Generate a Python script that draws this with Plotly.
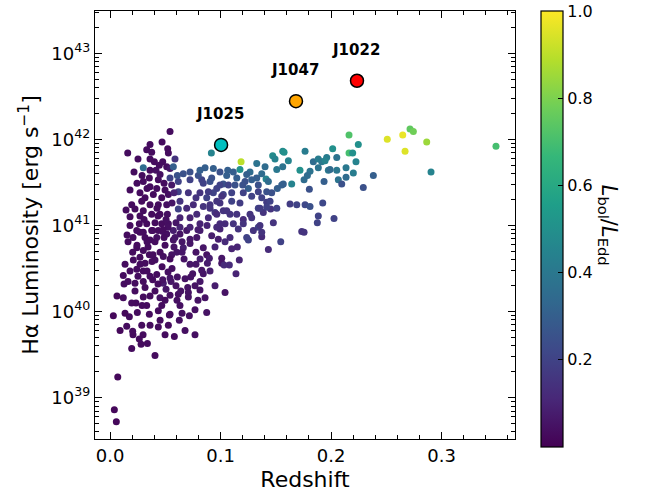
import plotly.graph_objects as go

# ---------------- data ----------------
# low / core population (redshift, log10 L_Halpha, Eddington ratio)
z_low = [.0039,.0057,.0070,.0196,.0265,.0281,.0338,.0407,.0582,.0208,.0030,.0151,.0205,.0287,.0175,.0247,.0235,.0120,.0196,.0301,
         .0332,.0356,.0437,.0528,.0537,.0627,.0718,.0769,.0875,.0633,.0468,.0452,.0543,.0618,.0709,.0703,.0640,.0597,.0507,.0482,
         .0552,.0609,.0543,.0477,.0386,.0301,.0317,.0226,.0127,.0120,.0181,.0242,.0301,.0362,.0423,.0317,.0211,.0271,.0205,.0242,
         .0301,.0356,.0407,.0482,.0558,.0604,.0663,.0724,.0778,.0844,.0875,.1011,.1041,.1011,.0980,.0920,.0785,.0724,.0633,.0573,
         .0513,.0423,.0362,.0271,.0386,.0477,.0694,.0814,.0995]
logL_low = [38.86,38.72,39.24,39.57,39.68,39.62,39.63,39.49,39.71,39.73,39.95,39.83,39.77,39.84,39.94,39.99,40.10,40.16,40.10,40.17,
            40.07,39.97,39.82,39.84,39.96,39.90,39.95,40.02,39.99,40.07,40.07,40.16,40.19,40.20,40.17,40.28,40.24,40.30,40.26,40.33,
            40.35,40.40,40.39,40.37,40.37,40.35,40.28,40.33,40.32,40.42,40.47,40.49,40.47,40.41,40.43,40.56,40.60,40.63,40.69,40.74,
            40.71,40.66,40.60,40.64,40.66,40.69,40.74,40.79,40.69,40.74,40.66,40.62,40.22,40.56,40.84,40.88,40.86,40.84,40.90,40.83,
            40.90,40.86,40.83,40.92,40.94,40.93,40.94,40.94,40.96]
edd_low = [.02,.02,.02,.03,.03,.03,.03,.03,.03,.03,.02,.03,.03,.03,.03,.03,.03,.03,.03,.03,
           .03,.03,.03,.03,.03,.04,.04,.04,.05,.04,.03,.05,.04,.04,.05,.05,.05,.05,.06,.08,
           .06,.05,.06,.05,.03,.03,.03,.03,.03,.03,.03,.03,.03,.03,.03,.03,.03,.03,.03,.03,
           .03,.03,.04,.04,.05,.06,.08,.06,.05,.06,.05,.06,.05,.06,.08,.08,.06,.06,.05,.05,
           .04,.04,.03,.03,.03,.04,.06,.08,.10]

# intermediate population
z_mid = [.1925,.2027,.1885,.1876,.1629,.1690,.1765,.1810,.1735,.1756,.1545,.1433,.1373,.1342,.1478,.1454,.1418,.1342,.1387,.1267,
         .1206,.1237,.1252,.1161,.1152,.1101,.1170,.1080,.1140,.1032,.0899,.0881,.0814,.0709,.0543,.0437,.0844,.0830,.0748,.0730]
logL_mid = [41.26,41.08,41.11,41.03,41.25,41.24,41.24,41.22,40.93,40.92,40.81,40.72,40.87,40.98,41.03,41.19,41.27,41.20,41.15,41.13,
            41.07,40.86,40.83,40.96,40.75,40.73,40.60,40.54,40.44,40.54,40.62,40.56,40.25,40.22,39.97,40.01,40.44,40.48,40.44,40.40]
edd_mid = [.22,.20,.20,.20,.18,.20,.22,.25,.15,.15,.20,.12,.12,.20,.15,.15,.18,.20,.15,.15,
           .12,.20,.20,.15,.10,.10,.10,.12,.10,.12,.08,.08,.05,.05,.03,.03,.06,.06,.05,.05]

# upper population
z_up = [.0917,.1186,.1176,.1328,.1403,.1472,.1493,.1563,.1575,.1614,.1509,.1563,.1765,.1719,.1810,.1840,.1885,.1916,.1961,.1976,
        .1885,.1946,.2015,.2163,.2163,.2196,.2247,.2226,.2136,.2202,.2052,.2066,.2136,.2097,.1937,.1804,.1756,.1786,.1568,.1644,
        .1514,.1554,.1412,.1433,.1373,.1328,.1267,.1237,.1282,.1222,.1252,.1201,.1147,.1116,.1065,.0995,.0935,.0860,.0830,.0905,
        .0966,.1025,.1071,.1101,.1025,.0935,.0875,.1131,.1342,.1342,.1418,.1463,.1373,.1448,.1509,.1357,.1282,.1206,.1176,.1101,
        .0995,.0905,.0950,.1025,.1086,.1147,.1116,.1041,.0966,.1206,.1282,.1418,.1357,.1373,.1297,.2052,.1991,.2292,.2383,.2509,
        .2649,.2670,.2715,.2745,.2866,.2905,.3493]
logL_up = [41.84,41.74,41.65,41.72,41.68,41.81,41.77,41.86,41.85,41.75,41.65,41.68,41.86,41.64,41.63,41.74,41.77,41.74,41.79,41.64,
           41.67,41.75,41.89,42.05,41.84,41.84,41.94,41.74,41.67,41.61,41.64,41.53,41.56,41.48,41.51,41.42,41.53,41.58,41.48,41.48,
           41.43,41.47,41.54,41.51,41.60,41.55,41.62,41.59,41.53,41.51,41.43,41.47,41.55,41.62,41.64,41.62,41.66,41.67,41.53,41.51,
           41.43,41.48,41.47,41.38,41.36,41.38,41.32,41.47,41.47,41.39,41.39,41.38,41.32,41.28,41.20,41.20,41.34,41.38,41.26,41.28,
           41.26,41.24,41.15,41.17,41.13,41.13,41.02,41.02,40.98,41.02,41.09,41.21,41.00,40.92,40.94,41.79,41.65,41.44,41.58,42.00,
           42.05,41.86,42.12,42.09,41.97,41.62,41.92]
edd_up = [.45,.90,.50,.38,.35,.48,.45,.48,.50,.45,.40,.38,.42,.50,.38,.35,.42,.40,.42,.40,
          .38,.45,.50,.72,.70,.50,.50,.45,.40,.42,.40,.38,.35,.25,.30,.25,.35,.35,.30,.45,
          .30,.30,.45,.35,.35,.30,.35,.30,.30,.25,.30,.25,.30,.30,.30,.25,.30,.30,.20,.25,
          .20,.25,.20,.20,.20,.20,.20,.25,.25,.20,.25,.25,.20,.20,.20,.18,.20,.20,.18,.20,
          .15,.15,.15,.15,.15,.15,.15,.12,.12,.15,.15,.20,.15,.15,.15,.38,.35,.25,.30,.95,
          .97,.95,.75,.78,.85,.45,.70]

# dense core, upper part
z_core = [.0543,.0160,.0362,.0471,.0522,.0528,.0332,.0377,.0401,.0446,.0477,.0513,.0543,.0301,.0217,.0301,.0356,.0437,.0489,.0543,
          .0558,.0498,.0423,.0362,.0271,.0317,.0392,.0468,.0528,.0513,.0437,.0362,.0287,.0196,.0226,.0301,.0377,.0452,.0519,.0271,
          .0181,.0265,.0332,.0407,.0468,.0528,.0377,.0301,.0437,.0242,.0618,.0694,.0633,.0724,.0785,.0844,.0778,.0709,.0618,.0633,
          .0754,.0814,.0890,.0966,.0905,.0966,.0890,.0814,.0724,.0633,.0573,.0995,.0618,.0724,.0663,.0799,.0724,.0814,.0920,.0844,
          .0995,.1056,.0573,.0609,.1011,.1056]
logL_core = [42.09,41.84,41.94,41.97,41.89,41.84,41.88,41.85,41.74,41.70,41.74,41.68,41.66,41.67,41.62,41.51,41.55,41.53,41.49,41.55,
             41.47,41.41,41.43,41.45,41.38,41.32,41.36,41.32,41.36,41.24,41.24,41.24,41.28,41.24,41.19,41.17,41.13,41.13,41.13,41.11,
             41.10,41.02,41.02,41.03,41.02,41.02,40.94,40.92,40.94,40.94,41.19,41.20,41.09,41.09,41.13,41.22,41.32,41.38,41.39,41.28,
             41.24,41.38,41.39,41.28,41.20,41.13,41.09,41.02,40.98,40.98,40.94,41.02,41.51,41.53,41.60,41.58,41.62,41.64,41.55,41.49,
             41.47,41.58,41.68,41.58,41.34,41.17]
edd_core = [.03,.03,.03,.03,.03,.03,.03,.03,.03,.03,.03,.03,.06,.35,.03,.03,.03,.03,.03,.20,
            .06,.03,.03,.03,.03,.03,.03,.03,.04,.04,.03,.03,.03,.03,.03,.03,.03,.03,.04,.03,
            .03,.03,.03,.03,.03,.04,.03,.03,.03,.03,.20,.12,.10,.10,.12,.15,.15,.15,.20,.15,
            .12,.15,.18,.15,.15,.12,.12,.10,.10,.10,.08,.12,.20,.20,.25,.25,.25,.30,.25,.20,
            .20,.30,.30,.25,.15,.15]

# extra members of the crowded core
z_fill = [.0317,.0407,.0498,.0344,.0453,.0543,.0380,.0471,.0561,.0272,.0335,.0434,.0525,.0253,.0407,.0362,.0498,.0290,.0226,.0163,
          .0136,.0163,.0208,.0181,.0154,.0434,.0489,.0579,.0597,.0561,.0335,.0244,.0181,.0145,.0416,.0253,.0362,.0290,.0453,.0588,
          .0525,.0335,.0389,.0480,.0308,.0244,.0425,.0507,.0362,.0579,.0588,.0652,.0670,.0724,.0679,.0769,.0815,.0905,.0950,.0860,
          .0796,.0606,.0652,.0453,.0362,.0299,.0498,.0679,.0769,.0136,.0063,.0091,.0815,.0778,.0950,.1041,.1086,.0796,.0878,.0652]
logL_fill = [40.86,40.81,40.77,40.75,40.69,40.61,40.58,40.52,40.50,40.55,40.47,40.32,40.46,40.41,40.24,40.18,40.13,40.07,40.24,40.35,
             40.55,40.81,40.86,41.00,40.89,41.11,40.86,40.75,41.03,41.26,41.43,41.49,41.41,41.18,41.64,41.77,41.77,41.58,41.59,41.77,
             40.98,40.81,40.66,40.95,41.07,40.77,41.20,41.07,41.64,41.38,40.86,40.81,40.61,40.55,40.38,40.30,40.35,40.47,40.30,40.16,
             40.13,40.13,39.98,39.90,39.84,39.73,39.73,39.78,39.73,39.98,40.18,39.78,40.61,40.55,40.75,40.81,40.86,40.95,41.00,40.69]
edd_fill = [.03,.03,.03,.03,.03,.03,.03,.03,.04,.03,.03,.03,.04,.03,.03,.03,.03,.03,.03,.03,
            .03,.03,.03,.03,.03,.03,.03,.05,.06,.06,.03,.03,.03,.03,.04,.03,.03,.03,.04,.15,
            .04,.03,.03,.03,.03,.03,.03,.04,.03,.10,.06,.06,.05,.06,.05,.05,.06,.08,.08,.05,
            .05,.04,.04,.03,.03,.03,.03,.04,.04,.02,.02,.02,.08,.06,.10,.12,.12,.08,.10,.06]

# highlighted objects
names = ["J1025", "J1047", "J1022"]
z_hl = [0.1005, 0.1683, 0.2235]
logL_hl = [41.935, 42.443, 42.68]
col_hl = ["#00bfbf", "#ffa500", "#ff0000"]

# axis ticks
xticks = [0.0, 0.1, 0.2, 0.3]
ydecades = [39, 40, 41, 42, 43]
cbar_ticks = [0.2, 0.4, 0.6, 0.8, 1.0]
cbar_minor = [0.05, 0.1, 0.15, 0.25, 0.3, 0.35, 0.45, 0.5, 0.55, 0.65, 0.7, 0.75, 0.85, 0.9, 0.95]

# ---------------- figure ----------------
z_all = z_low + z_mid + z_up + z_core + z_fill
L_all = [10.0 ** v for v in (logL_low + logL_mid + logL_up + logL_core + logL_fill)]
e_all = edd_low + edd_mid + edd_up + edd_core + edd_fill

FONT = "DejaVu Sans"
PLOT_W = 420.0
CB_X = 1.062
CB_T = 22
fig = go.Figure()

fig.add_trace(go.Scatter(
    x=z_all, y=L_all, mode="markers", showlegend=False,
    marker=dict(size=7, color=e_all, colorscale="Viridis", cmin=0, cmax=1,
                line=dict(width=0),
                colorbar=dict(x=CB_X, xanchor="left", xref="paper", xpad=0, ypad=0,
                              y=1, yanchor="top", len=436, lenmode="pixels",
                              thickness=CB_T, thicknessmode="pixels",
                              outlinecolor="black", outlinewidth=1.2,
                              tickmode="array", tickvals=cbar_ticks,
                              ticktext=["%.1f" % v for v in cbar_ticks],
                              ticks="inside", ticklen=5, tickcolor="black", tickwidth=1,
                              tickfont=dict(family=FONT, size=16, color="black"))),
))

# minor ticks on the colour bar (the colour bar spans the full plot height, 0..1)
cb_right = CB_X + CB_T / PLOT_W
for v in cbar_minor:
    fig.add_shape(type="line", xref="paper", yref="paper",
                  x0=cb_right - 4 / PLOT_W, x1=cb_right, y0=v, y1=v,
                  line=dict(color="black", width=1))

fig.add_trace(go.Scatter(
    x=z_hl, y=[10.0 ** v for v in logL_hl], mode="markers", showlegend=False,
    marker=dict(size=13, color=col_hl, line=dict(color="black", width=1.5)),
))

for n, zz, ll in zip(names, z_hl, logL_hl):
    fig.add_annotation(x=zz, y=ll, xref="x", yref="y", text="<b>%s</b>" % n,
                       showarrow=False, yshift=31, xshift=-1,
                       font=dict(family=FONT, size=15, color="black"))

fig.add_annotation(xref="paper", yref="paper", x=1.222, y=0.5, xanchor="center", yanchor="middle",
                   text="<i>L</i><sub>bol</sub>/<i>L</i><sub>Edd</sub>", textangle=90,
                   showarrow=False, font=dict(family=FONT, size=21, color="black"))

fig.update_xaxes(
    range=[-0.0136, 0.3665], tickvals=xticks, ticktext=["%.1f" % v for v in xticks],
    ticks="inside", ticklen=7, tickwidth=1.2, tickcolor="black",
    minor=dict(ticks="inside", ticklen=3.5, tickwidth=1, tickcolor="black", dtick=0.02, tick0=0, showgrid=False),
    showline=True, linecolor="black", linewidth=1.3, mirror="allticks",
    showgrid=False, zeroline=False,
    tickfont=dict(family=FONT, size=18, color="black"),
    title=dict(text="Redshift", font=dict(family=FONT, size=22, color="black"), standoff=6),
)

minor_y = [m * 10.0 ** d for d in range(38, 44) for m in range(2, 10)]
fig.update_yaxes(
    type="log", range=[38.52, 43.49],
    tickvals=[10.0 ** d for d in ydecades], ticktext=["10<sup>%d</sup>" % d for d in ydecades],
    ticks="inside", ticklen=7, tickwidth=1.2, tickcolor="black",
    minor=dict(ticks="inside", ticklen=3.5, tickwidth=1, tickcolor="black", tickvals=minor_y, showgrid=False),
    showline=True, linecolor="black", linewidth=1.3, mirror="allticks",
    showgrid=False, zeroline=False,
    tickfont=dict(family=FONT, size=18, color="black"),
    title=dict(text="Hα Luminosity [erg s<sup>−1</sup>]", font=dict(family=FONT, size=22, color="black"), standoff=6),
)

fig.update_layout(
    width=651, height=497,
    margin=dict(l=95, r=136, t=10, b=51),
    paper_bgcolor="white", plot_bgcolor="white",
    font=dict(family=FONT, color="black"),
)

fig.write_html("out.html")
